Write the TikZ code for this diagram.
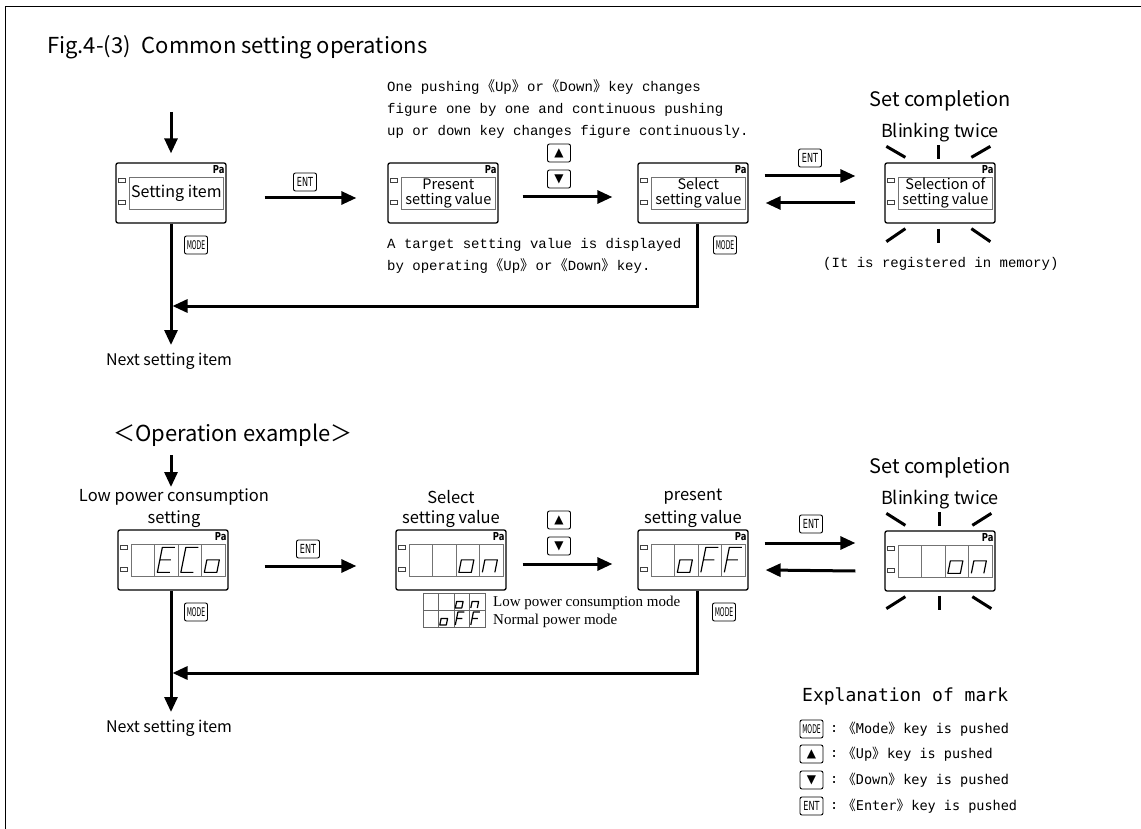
\documentclass[tikz,border=0pt]{standalone}
\usepackage{fontspec}
\usepackage{graphicx}
\usetikzlibrary{arrows.meta,calc}
\newfontfamily\gothic{Noto Sans CJK JP}
\newfontfamily\brk{Noto Sans CJK JP}[RawFeature=+halt]
\newfontfamily\mincho{Liberation Mono}
\newfontfamily\gmono{DejaVu Sans Mono}
\newfontfamily\keyfont{DejaVu Sans Condensed}
\newfontfamily\dejavu{DejaVu Sans}
\newfontfamily\tms{Liberation Serif}
\newcommand\lb{{\brk 《}}
\newcommand\rb{{\brk 》}}
\newcommand\ENTt{\scalebox{0.72}[1]{ENT}}
\newcommand\MODEt{\scalebox{0.56}[1]{MODE}}
% seven segment glyphs (local coords, origin bottom-left, y up negative)
\newcommand\segE{\draw[seg] (20,-25)--(7.5,-25)--(2.5,0)--(15,0) (5,-12.5)--(16,-12.5);}
\newcommand\segC{\draw[seg] (20,-25)--(7.5,-25)--(2.5,0)--(15,0);}
\newcommand\sego{\draw[seg] (5,-12.5)--(17.5,-12.5)--(15,0)--(2.5,0)--cycle;}
\newcommand\segn{\draw[seg] (2.5,0)--(5,-12.5)--(17.5,-12.5)--(15,0);}
\newcommand\segF{\draw[seg] (20,-25)--(7.5,-25)--(2.5,0) (5,-12.5)--(16,-12.5);}
\newcommand\dispbox[3]{%
  \node[disp] (#1) at (#2,#3) {};
  \draw[innerrect] ($(#1.north west)+(14,15)$) rectangle ($(#1.north west)+(108,47)$);
  \draw[led] ($(#1.north west)+(3,16)$) rectangle ($(#1.north west)+(10,20)$);
  \draw[led] ($(#1.north west)+(3,38)$) rectangle ($(#1.north west)+(10,42)$);
  \node[pa] at ($(#1.north east)+(-2,3)$) {\scalebox{0.85}[1]{Pa}};
}
\newcommand\cells[1]{%
  \foreach \k in {1,2,3} {\draw[innerrect] ($(#1.north west)+({14+23.5*\k},15)$) -- ($(#1.north west)+({14+23.5*\k},47)$);}
}
\newcommand\dig[3]{%
  \begin{scope}[shift={($(#1.north west)+({14+23.5*#2},43)$)}]#3\end{scope}
}
\newcommand\ldig[3]{%
  \begin{scope}[shift={(#1,#2)},scale=0.52]#3\end{scope}
}
\begin{document}
\begin{tikzpicture}[x=1pt,y=-1pt,
  disp/.style={draw, line width=1.3pt, rounded corners=2pt, minimum width=110pt, minimum height=60pt, inner sep=0pt},
  innerrect/.style={draw=black!55, line width=0.9pt},
  led/.style={draw=black!75, line width=0.7pt},
  pa/.style={anchor=north east, inner sep=0pt, font=\keyfont\bfseries\fontsize{11}{11}\selectfont},
  arr/.style={line width=3pt, -{Triangle[length=15pt,width=13pt]}},
  ray/.style={line width=3pt},
  seg/.style={line width=1.2pt, line join=round},
  keybox/.style={draw, line width=0.9pt, rounded corners=2pt, minimum width=23pt, minimum height=18pt, inner sep=0pt},
  entk/.style={keybox, font=\keyfont\fontsize{12.5}{12.5}\selectfont},
  modek/.style={keybox, font=\keyfont\fontsize{12}{12}\selectfont},
  trik/.style={keybox, font=\dejavu\fontsize{12}{12}\selectfont},
  gt/.style={inner sep=0pt, align=center},
  txt/.style={inner sep=0pt, anchor=base west},
  legcell/.style={draw=black!60, line width=0.7pt},
]
\useasboundingbox (0,0) rectangle (1141,829);
% frame
\draw[line width=1pt] (5,829) -- (5,7) -- (1141,7);
% title
\node[gt, anchor=base west, font=\gothic\fontsize{22}{22}\selectfont] (title) at (47,54) {Fig.4-(3)\hspace{0.5em}Common setting operations};

% ================= TOP SECTION =================
\dispbox{b1}{171}{193}
\dispbox{b2}{443}{193}
\dispbox{b3}{693}{193}
\dispbox{b4}{940}{193}
\node[gt, font=\gothic\fontsize{16}{16}\selectfont] (b1t) at ($(b1.north west)+(61,31)$) {Setting item};
\node[gt, font=\gothic\fontsize{14.5}{15}\selectfont] (b2t) at ($(b2.north west)+(61,31)$) {Present\\setting value};
\node[gt, font=\gothic\fontsize{14.5}{15}\selectfont] (b3t) at ($(b3.north west)+(61,31)$) {Select\\setting value};
\node[gt, font=\gothic\fontsize{14.5}{15}\selectfont] (b4t) at ($(b4.north west)+(61,31)$) {Selection of\\setting value};

\coordinate (t0) at (171,112);
\draw[arr] (t0) -- ([yshift=9pt]b1.north);
\node[entk] (k1) at (305,182) {\ENTt};
\draw[arr] ([yshift=-5pt,xshift=38pt]b1.east) -- ([yshift=-5pt,xshift=-31pt]b2.west);
\node[trik] (ku1) at (559,153) {▲};
\node[trik] (kd1) at (559,179) {▼};
\draw[arr] ([yshift=-4pt,xshift=24pt]b2.east) -- ([yshift=-4pt,xshift=-25pt]b3.west);
\node[entk] (k2) at (810,158) {\ENTt};
\draw[arr] ([yshift=17pt,xshift=16pt]b3.east) -- ([yshift=17pt,xshift=-29pt]b4.west);
\draw[arr] ([yshift=-10pt,xshift=-29pt]b4.west) -- ([yshift=-10pt,xshift=17pt]b3.east);
% blink rays top
\draw[ray] ($(b4.north west)+(2,-16)$) -- ($(b4.north west)+(21,-5)$);
\draw[ray] ($(b4.north west)+(54,-17)$) -- ($(b4.north west)+(54,-3)$);
\draw[ray] ($(b4.north west)+(87,-5)$) -- ($(b4.north west)+(106,-16)$);
\draw[ray] ($(b4.south west)+(2,18)$) -- ($(b4.south west)+(21,5)$);
\draw[ray] ($(b4.south west)+(54,5)$) -- ($(b4.south west)+(54,19)$);
\draw[ray] ($(b4.south west)+(87,5)$) -- ($(b4.south west)+(106,18)$);
\node[gt, font=\gothic\fontsize{20}{20}\selectfont] (sc1) at (940,101) {Set completion};
\node[gt, font=\gothic\fontsize{18}{18}\selectfont] (bt1) at (940,133) {Blinking twice};
\node[txt, font=\mincho\fontsize{14}{14}\selectfont] (mem) at (823,268) {(It is registered in memory)};
% descriptions
\node[txt, font=\mincho\fontsize{14}{14}\selectfont] (d1) at (387,92) {One pushing \lb Up\rb{} or \lb Down\rb{} key changes};
\node[txt, font=\mincho\fontsize{14}{14}\selectfont] (d2) at (387,114) {figure one by one and continuous pushing};
\node[txt, font=\mincho\fontsize{14}{14}\selectfont] (d3) at (387,136) {up or down key changes figure continuously.};
\node[txt, font=\mincho\fontsize{14}{14}\selectfont] (d4) at (387,249) {A target setting value is displayed};
\node[txt, font=\mincho\fontsize{14}{14}\selectfont] (d5) at (387,271) {by operating \lb Up\rb{} or \lb Down\rb{} key.};
% mode / return
\node[modek] (m1) at (196,245) {\MODEt};
\node[modek] (m2) at (725,245) {\MODEt};
\coordinate (n1) at (171,345);
\coordinate (r1) at (172.5,306);
\draw[arr] (b1.south) -- (n1);
\draw[arr] ([xshift=4pt]b3.south) |- (r1);
\node[gt, font=\gothic\fontsize{16}{16}\selectfont] (nx1) at (169,361) {Next setting item};

% ================= BOTTOM SECTION =================
\node[gt, font=\gothic\fontsize{22}{22}\selectfont] (opex) at (233,435) {＜Operation example＞};
\dispbox{c1}{173}{560}
\dispbox{c2}{451}{560}
\dispbox{c3}{693}{560}
\dispbox{c4}{940}{561}
\cells{c1}\cells{c2}\cells{c3}\cells{c4}
\dig{c1}{1}{\segE}\dig{c1}{2}{\segC}\dig{c1}{3}{\sego}
\dig{c2}{2}{\sego}\dig{c2}{3}{\segn}
\dig{c3}{1}{\sego}\dig{c3}{2}{\segF}\dig{c3}{3}{\segF}
\dig{c4}{2}{\sego}\dig{c4}{3}{\segn}
\node[gt, font=\gothic\fontsize{16.5}{16.5}\selectfont] (l1) at (174,497) {Low power consumption};
\node[gt, font=\gothic\fontsize{16.5}{16.5}\selectfont] (l1b) at (174,519) {setting};
\node[gt, font=\gothic\fontsize{16.5}{16.5}\selectfont] (l2) at (451,497) {Select};
\node[gt, font=\gothic\fontsize{16.5}{16.5}\selectfont] (l2b) at (451,519) {setting value};
\node[gt, font=\gothic\fontsize{16.5}{16.5}\selectfont] (l3) at (693,497) {present};
\node[gt, font=\gothic\fontsize{16.5}{16.5}\selectfont] (l3b) at (693,519) {setting value};
\node[gt, font=\gothic\fontsize{20}{20}\selectfont] (sc2) at (940,468) {Set completion};
\node[gt, font=\gothic\fontsize{18}{18}\selectfont] (bt2) at (940,500) {Blinking twice};

\coordinate (s0) at (171,455);
\coordinate (s0e) at (171,487);
\draw[arr] (s0) -- (s0e);
\node[entk] (k3) at (308,549) {\ENTt};
\draw[arr] ([yshift=-6pt,xshift=36pt]c1.east) -- ([yshift=-6pt,xshift=-39pt]c2.west);
\node[trik] (ku2) at (559,520) {▲};
\node[trik] (kd2) at (559,546) {▼};
\draw[arr] ([yshift=-4pt,xshift=16pt]c2.east) -- ([yshift=-4pt,xshift=-25pt]c3.west);
\node[entk] (k4) at (811,524) {\ENTt};
\draw[arr] ([yshift=17pt,xshift=16pt]c3.east) -- ([yshift=18pt,xshift=-29pt]c4.west);
\draw[arr] ([yshift=-10pt,xshift=-29pt]c4.west) -- ([yshift=-10pt,xshift=17pt]c3.east);
% blink rays bottom
\draw[ray] ($(c4.north west)+(2,-17)$) -- ($(c4.north west)+(21,-5)$);
\draw[ray] ($(c4.north west)+(55,-18)$) -- ($(c4.north west)+(55,-4)$);
\draw[ray] ($(c4.north west)+(88,-5)$) -- ($(c4.north west)+(107,-17)$);
\draw[ray] ($(c4.south west)+(2,17)$) -- ($(c4.south west)+(21,5)$);
\draw[ray] ($(c4.south west)+(55,4)$) -- ($(c4.south west)+(55,18)$);
\draw[ray] ($(c4.south west)+(88,5)$) -- ($(c4.south west)+(107,17)$);
% legend cells
\draw[legcell] (423,593) rectangle (485,610);
\foreach \xx in {438.5,454,469.5} {\draw[legcell] (\xx,593) -- (\xx,610);}
\ldig{454}{608}{\sego}\ldig{469.5}{608}{\segn}
\draw[legcell] (423,610) rectangle (485,627);
\foreach \xx in {438.5,454,469.5} {\draw[legcell] (\xx,610) -- (\xx,627);}
\ldig{438.5}{625}{\sego}\ldig{454}{625}{\segF}\ldig{469.5}{625}{\segF}
\node[txt, font=\tms\fontsize{15}{15}\selectfont] (lg1) at (493,606) {Low power consumption mode};
\node[txt, font=\tms\fontsize{15}{15}\selectfont] (lg2) at (493,624) {Normal power mode};
% mode / return
\node[modek] (m3) at (196,612) {\MODEt};
\node[modek] (m4) at (724,612) {\MODEt};
\coordinate (n2) at (171,712);
\coordinate (r2) at (172.5,673);
\draw[arr] ([xshift=-2pt]c1.south) -- (n2);
\draw[arr] ([xshift=4pt]c3.south) |- (r2);
\node[gt, font=\gothic\fontsize{16}{16}\selectfont] (nx2) at (169,728) {Next setting item};

% ================= EXPLANATION =================
\node[txt, anchor=west, font=\gmono\fontsize{18}{18}\selectfont] (expl) at (802,696) {Explanation of mark};
\node[modek] (e1) at (811.5,729) {\MODEt};
\node[trik] (e2) at (811.5,754) {▲};
\node[trik] (e3) at (811.5,780) {▼};
\node[entk] (e4) at (811.5,806) {\ENTt};
\foreach \yy/\tt in {729/{\lb Mode\rb{} key is pushed},754/{\lb Up\rb{} key is pushed},780/{\lb Down\rb{} key is pushed},806/{\lb Enter\rb{} key is pushed}} {
  \node[inner sep=0pt, anchor=west, font=\gmono\fontsize{13.5}{13.5}\selectfont] at (830,\yy) {:};
  \node[inner sep=0pt, anchor=west, font=\gmono\fontsize{13.5}{13.5}\selectfont] at (849,\yy) {\tt};
}
\end{tikzpicture}
\end{document}
